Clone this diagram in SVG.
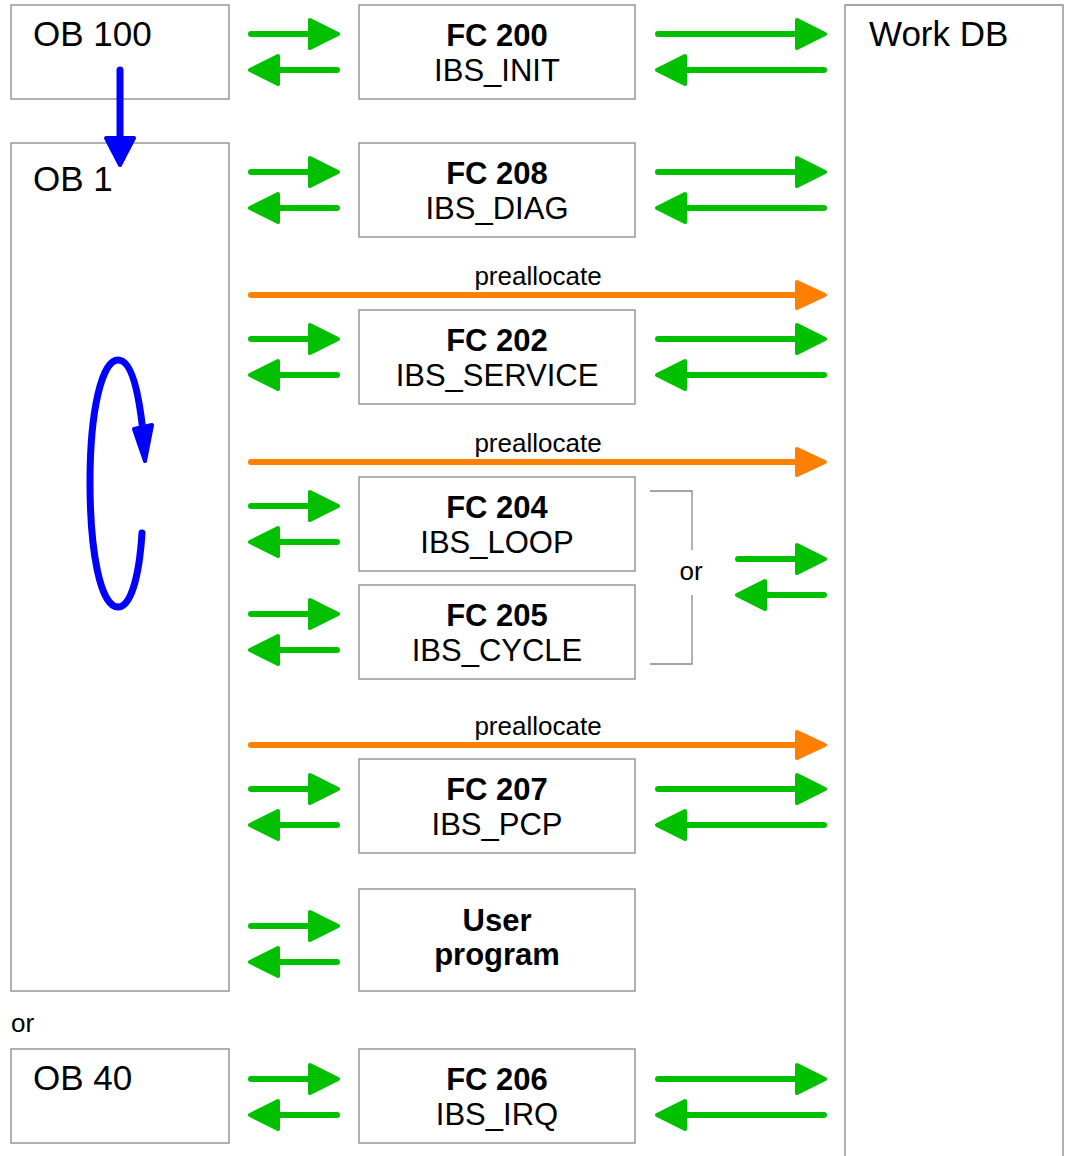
<svg xmlns="http://www.w3.org/2000/svg" width="1071" height="1156" viewBox="0 0 1071 1156">
<style>
.box{fill:#fff;stroke:#888;stroke-width:1.3}
.t{font-family:"Liberation Sans",Arial,sans-serif;fill:#000}
.ob{font-size:35px}
.fcb{font-size:31px;font-weight:bold;text-anchor:middle}
.fcr{font-size:31px;text-anchor:middle}
.sm{font-size:26px}
.g{stroke:#00c000;stroke-width:6;stroke-linecap:round;fill:none}
.gh{fill:#00c000;stroke:#00c000;stroke-width:4;stroke-linejoin:round}
.o{stroke:#ff8000;stroke-width:6;stroke-linecap:round;fill:none}
.oh{fill:#ff8000;stroke:#ff8000;stroke-width:4;stroke-linejoin:round}
.b{stroke:#0000ff;stroke-width:7;stroke-linecap:round;fill:none}
.bh{fill:#0000ff;stroke:#0000ff;stroke-width:4;stroke-linejoin:round}
.br{stroke:#888;stroke-width:1.3;fill:none}
</style>
<defs>
<g id="rA"><line class="g" x1="0" y1="0" x2="62" y2="0"/><polygon class="gh" points="59,-14 87,0 59,14"/></g>
<g id="lA"><line class="g" x1="25" y1="0" x2="87" y2="0"/><polygon class="gh" points="28,-14 0,0 28,14"/></g>
<g id="rL"><line class="g" x1="0" y1="0" x2="142" y2="0"/><polygon class="gh" points="139,-14 167,0 139,14"/></g>
<g id="lL"><line class="g" x1="25" y1="0" x2="167" y2="0"/><polygon class="gh" points="28,-14 0,0 28,14"/></g>
<g id="oA"><line class="o" x1="0" y1="0" x2="550" y2="0"/><polygon class="oh" points="546,-13 574,0 546,13"/></g>
</defs>

<g id="workdb"><path class="box" d="M845,1160 V5 H1063 V1160"/><text class="t ob" x="869" y="46">Work DB</text></g>

<g id="ob100"><rect class="box" x="11" y="5" width="218" height="94"/><text class="t ob" x="33" y="46">OB 100</text></g>
<g id="ob1"><rect class="box" x="11" y="143" width="218" height="848"/><text class="t ob" x="33" y="191">OB 1</text></g>
<g id="or1"><text class="t sm" x="11" y="1032">or</text></g>
<g id="ob40"><rect class="box" x="11" y="1049" width="218" height="94"/><text class="t ob" x="33" y="1090">OB 40</text></g>

<g id="fc200"><rect class="box" x="359" y="5" width="276" height="94"/><text class="t fcb" x="497" y="46">FC 200</text><text class="t fcr" x="497" y="81">IBS_INIT</text></g>
<g id="fc208"><rect class="box" x="359" y="143" width="276" height="94"/><text class="t fcb" x="497" y="184">FC 208</text><text class="t fcr" x="497" y="219">IBS_DIAG</text></g>
<g id="fc202"><rect class="box" x="359" y="310" width="276" height="94"/><text class="t fcb" x="497" y="351">FC 202</text><text class="t fcr" x="497" y="386">IBS_SERVICE</text></g>
<g id="fc204"><rect class="box" x="359" y="477" width="276" height="94"/><text class="t fcb" x="497" y="518">FC 204</text><text class="t fcr" x="497" y="553">IBS_LOOP</text></g>
<g id="fc205"><rect class="box" x="359" y="585" width="276" height="94"/><text class="t fcb" x="497" y="626">FC 205</text><text class="t fcr" x="497" y="661">IBS_CYCLE</text></g>
<g id="fc207"><rect class="box" x="359" y="759" width="276" height="94"/><text class="t fcb" x="497" y="800">FC 207</text><text class="t fcr" x="497" y="835">IBS_PCP</text></g>
<g id="user"><rect class="box" x="359" y="889" width="276" height="102"/><text class="t fcb" x="497" y="931">User</text><text class="t fcb" x="497" y="965">program</text></g>
<g id="fc206"><rect class="box" x="359" y="1049" width="276" height="94"/><text class="t fcb" x="497" y="1090">FC 206</text><text class="t fcr" x="497" y="1125">IBS_IRQ</text></g>

<g id="bracket"><path class="br" d="M650,491 H692 V550 M692,595 V664 H650"/><text class="t sm" x="691" y="580" text-anchor="middle">or</text></g>

<g id="connectors">
<use href="#rA" x="251" y="34"/><use href="#lA" x="250" y="70"/>
<use href="#rA" x="251" y="172"/><use href="#lA" x="250" y="208"/>
<use href="#rA" x="251" y="339"/><use href="#lA" x="250" y="375"/>
<use href="#rA" x="251" y="506"/><use href="#lA" x="250" y="542"/>
<use href="#rA" x="251" y="614"/><use href="#lA" x="250" y="650"/>
<use href="#rA" x="251" y="789"/><use href="#lA" x="250" y="825"/>
<use href="#rA" x="251" y="926"/><use href="#lA" x="250" y="962"/>
<use href="#rA" x="251" y="1079"/><use href="#lA" x="250" y="1115"/>

<use href="#rL" x="658" y="34"/><use href="#lL" x="657" y="70"/>
<use href="#rL" x="658" y="172"/><use href="#lL" x="657" y="208"/>
<use href="#rL" x="658" y="339"/><use href="#lL" x="657" y="375"/>
<use href="#rA" x="738" y="559"/><use href="#lA" x="737" y="595"/>
<use href="#rL" x="658" y="789"/><use href="#lL" x="657" y="825"/>
<use href="#rL" x="658" y="1079"/><use href="#lL" x="657" y="1115"/>

<use href="#oA" x="251" y="295"/><text class="t sm" x="538" y="285" text-anchor="middle">preallocate</text>
<use href="#oA" x="251" y="462"/><text class="t sm" x="538" y="452" text-anchor="middle">preallocate</text>
<use href="#oA" x="251" y="745"/><text class="t sm" x="538" y="735" text-anchor="middle">preallocate</text>

<line class="b" x1="120" y1="70" x2="120" y2="140"/><polygon class="bh" points="106,138 134,138 120,165"/>
<path class="b" d="M142,533 C139,580 130,607 118,607 C100,607 90,550 90,482 C90,410 102,360 118,360 C132,360 139,395 143,432"/>
<polygon class="bh" points="134,429 152,425 145,461"/>
</g>
</svg>
